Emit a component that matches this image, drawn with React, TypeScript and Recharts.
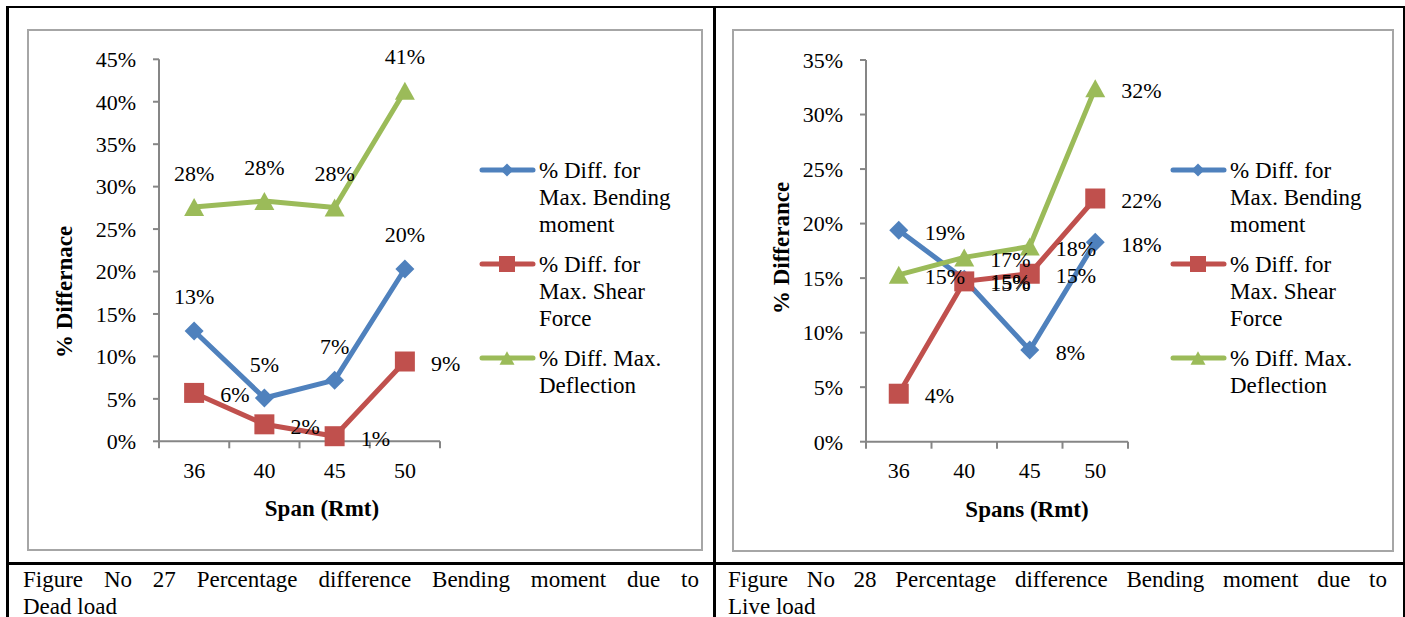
import React from 'react';
import { LineChart, Line, XAxis, YAxis, LabelList } from 'recharts';

const spans = ['36', '40', '45', '50'];

const seriesNames = [
  '% Diff. for Max. Bending moment',
  '% Diff. for Max. Shear Force',
  '% Diff. Max. Deflection',
];
const seriesColors = ['#4f81bd', '#c0504d', '#9bbb59'];
const markerKinds = ['diamond', 'square', 'triangle'];

// Figure 27 - dead load
const deadBending = [0.13, 0.051, 0.072, 0.203];
const deadShear = [0.057, 0.02, 0.006, 0.094];
const deadDeflection = [0.276, 0.283, 0.2755, 0.413];
const deadTicks = [0, 0.05, 0.1, 0.15, 0.2, 0.25, 0.3, 0.35, 0.4, 0.45];

// Figure 28 - live load
const liveBending = [0.194, 0.149, 0.084, 0.183];
const liveShear = [0.044, 0.147, 0.154, 0.223];
const liveDeflection = [0.153, 0.169, 0.179, 0.324];
const liveTicks = [0, 0.05, 0.1, 0.15, 0.2, 0.25, 0.3, 0.35];

// category axis drawn as numbers so tick marks can sit between the spans
const xTicks = [-0.5, 0, 0.5, 1, 1.5, 2, 2.5, 3, 3.5];

const FONT = "'Liberation Serif', 'Times New Roman', serif";
const AXIS = '#868686';

const pct = (v: number) => `${Math.round(v * 100)}%`;

const buildRows = (b: number[], s: number[], d: number[]) =>
  spans.map((span, i) => ({ idx: i, span, bending: b[i], shear: s[i], deflection: d[i] }));

const deadRows = buildRows(deadBending, deadShear, deadDeflection);
const liveRows = buildRows(liveBending, liveShear, liveDeflection);

function markerPath(kind: string, cx: number, cy: number, size: number) {
  const h = size / 2;
  if (kind === 'diamond') return `M${cx},${cy - h}L${cx + h},${cy}L${cx},${cy + h}L${cx - h},${cy}Z`;
  if (kind === 'square') return `M${cx - h},${cy - h}h${size}v${size}h${-size}Z`;
  const v = size * 0.45;
  return `M${cx},${cy - v}L${cx + h},${cy + v}L${cx - h},${cy + v}Z`;
}

const plotMarkerSize = [19, 20, 20];
const legendMarkerSize = [13, 16, 15];

const makeDot = (i: number) => (props: any) => {
  const { cx, cy, index } = props;
  if (cx == null || cy == null) return <g key={`d-${index}`} />;
  return <path key={`d-${index}`} d={markerPath(markerKinds[i], cx, cy, plotMarkerSize[i])} fill={seriesColors[i]} />;
};

const makeLabel = (pos: string) => (props: any) => {
  const vb = props.viewBox || {};
  const x = props.x ?? vb.x;
  const y = props.y ?? vb.y;
  if (x == null || y == null || props.value == null) return null;
  const common = { fontSize: 22, fontFamily: FONT, fill: '#000', dominantBaseline: 'central' as const };
  if (pos === 'top') {
    return <text key={`l-${props.index}`} x={x} y={y - 34} textAnchor="middle" {...common}>{pct(props.value)}</text>;
  }
  return <text key={`l-${props.index}`} x={x + 26} y={y + 2} textAnchor="start" {...common}>{pct(props.value)}</text>;
};

function SpanTick(props: any) {
  const { x, y, payload } = props;
  const v = payload.value;
  if (Number.isInteger(v)) {
    return (
      <text x={x} y={y + 29} textAnchor="middle" dominantBaseline="central" fontSize={22} fontFamily={FONT} fill="#000">
        {spans[v]}
      </text>
    );
  }
  return <line x1={x} x2={x} y1={y} y2={y + 7} stroke={AXIS} strokeWidth={2} />;
}

const keys = ['bending', 'shear', 'deflection'];

function Figure(props: any) {
  const { left, top, width, height, margin, rows, ticks, labelPos } = props;
  return (
    <>
      <div style={{ position: 'absolute', left, top, width, height, boxSizing: 'border-box', border: '2px solid #a6a6a6' }} />
      <div style={{ position: 'absolute', left, top, width, height }}>
        <LineChart width={width} height={height} data={rows} margin={margin}>
          <XAxis
            dataKey="idx"
            type="number"
            domain={[-0.5, 3.5]}
            ticks={xTicks}
            interval={0}
            tickLine={false}
            tickSize={0}
            tickMargin={0}
            height={40}
            axisLine={{ stroke: AXIS, strokeWidth: 2 }}
            tick={(p: any) => <SpanTick {...p} />}
          />
          <YAxis
            type="number"
            domain={[0, ticks[ticks.length - 1]]}
            ticks={ticks}
            interval={0}
            width={60}
            tickFormatter={pct}
            tickSize={6}
            tickMargin={17}
            axisLine={{ stroke: AXIS, strokeWidth: 2 }}
            tickLine={{ stroke: AXIS, strokeWidth: 2 }}
            tick={{ fill: '#000', fontSize: 22, fontFamily: FONT }}
          />
          {keys.map((k, i) => (
            <Line
              key={k}
              type="linear"
              dataKey={k}
              name={seriesNames[i]}
              stroke={seriesColors[i]}
              strokeWidth={5}
              strokeLinejoin="round"
              dot={makeDot(i)}
              activeDot={false}
              isAnimationActive={false}
            >
              <LabelList dataKey={k} content={makeLabel(labelPos[i])} />
            </Line>
          ))}
        </LineChart>
      </div>
    </>
  );
}

function LegendBox({ left, top }: { left: number; top: number }) {
  return (
    <div style={{ position: 'absolute', left, top }}>
      {seriesNames.map((name, i) => (
        <div key={name} style={{ display: 'flex', alignItems: 'flex-start', marginBottom: 13 }}>
          <svg width={60} height={27} style={{ flex: 'none', display: 'block' }}>
            <line x1={3} y1={13} x2={54} y2={13} stroke={seriesColors[i]} strokeWidth={5} strokeLinecap="round" />
            <path d={markerPath(markerKinds[i], 28, 13, legendMarkerSize[i])} fill={seriesColors[i]} />
          </svg>
          <div style={{ width: 150, fontSize: 23, lineHeight: '27px' }}>{name}</div>
        </div>
      ))}
    </div>
  );
}

function AxisTitle({ cx, cy, text, rotate }: { cx: number; cy: number; text: string; rotate?: boolean }) {
  return (
    <div
      style={{
        position: 'absolute',
        left: cx,
        top: cy,
        transform: `translate(-50%, -50%)${rotate ? ' rotate(-90deg)' : ''}`,
        whiteSpace: 'nowrap',
        fontWeight: 'bold',
        fontSize: 23,
        lineHeight: '27px',
      }}
    >
      {text}
    </div>
  );
}

function Caption({ left, width, first, second }: { left: number; width: number; first: string; second: string }) {
  return (
    <div style={{ position: 'absolute', left, top: 566, width, fontSize: 23, lineHeight: '27px' }}>
      <div style={{ textAlign: 'justify', textAlignLast: 'justify' }}>{first}</div>
      <div>{second}</div>
    </div>
  );
}

const rule = (left: number, top: number, width: number, height: number): React.CSSProperties => ({
  position: 'absolute', left, top, width, height, background: '#000',
});

export default function App() {
  return (
    <div
      style={{
        position: 'absolute', left: 0, top: 0, width: 1405, height: 617,
        overflow: 'hidden', background: '#fff', fontFamily: FONT, color: '#000',
      }}
    >
      <div style={rule(6, 6, 1399, 2)} />
      <div style={rule(6, 6, 2.5, 611)} />
      <div style={rule(713, 6, 3, 611)} />
      <div style={rule(1403, 6, 2, 611)} />
      <div style={rule(6, 562, 1399, 3)} />

      <Figure
        left={27}
        top={29}
        width={676}
        height={522}
        margin={{ top: 30.3, right: 263, bottom: 69.7, left: 72 }}
        rows={deadRows}
        ticks={deadTicks}
        labelPos={['top', 'right', 'top']}
      />
      <AxisTitle cx={64} cy={292} text="% Differnace" rotate />
      <AxisTitle cx={322} cy={508} text="Span (Rmt)" />
      <LegendBox left={479} top={156.5} />

      <Figure
        left={732}
        top={29}
        width={662}
        height={523}
        margin={{ top: 31, right: 266, bottom: 70.3, left: 74 }}
        rows={liveRows}
        ticks={liveTicks}
        labelPos={['right', 'right', 'right']}
      />
      <AxisTitle cx={781} cy={248} text="% Differance" rotate />
      <AxisTitle cx={1027} cy={509} text="Spans (Rmt)" />
      <LegendBox left={1170} top={156.5} />

      <Caption left={23} width={676} first="Figure No 27 Percentage difference Bending moment due to" second="Dead load" />
      <Caption left={728} width={659} first="Figure No 28 Percentage difference Bending moment due to" second="Live load" />
    </div>
  );
}
